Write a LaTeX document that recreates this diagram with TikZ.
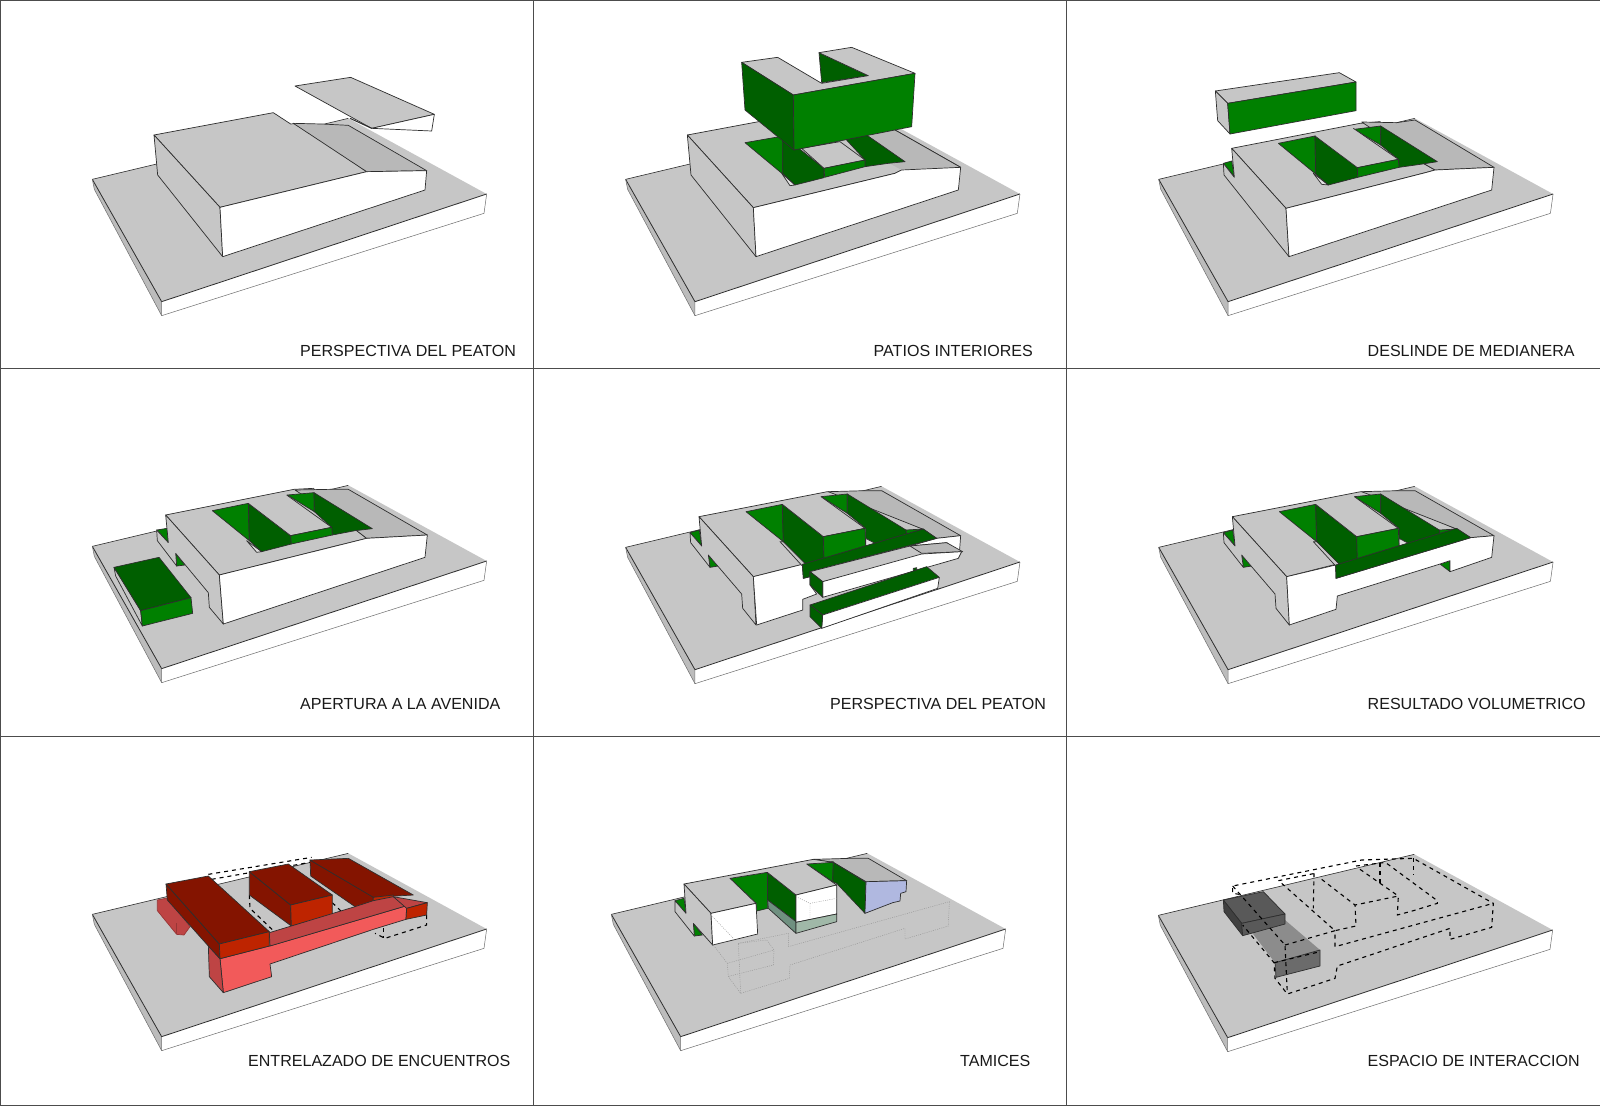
\documentclass[tikz,border=0pt]{standalone}
\usepackage{fontspec}
\setmainfont{Liberation Sans}
\definecolor{edge}{HTML}{2E2E2E}
\definecolor{gr}{HTML}{C6C6C6}
\definecolor{grs}{HTML}{BCBCBC}
\definecolor{rmp}{HTML}{B8B8B8}
\definecolor{gm}{HTML}{008000}
\definecolor{gd}{HTML}{005F00}
\definecolor{rt}{HTML}{841400}
\definecolor{rf}{HTML}{BE2400}
\definecolor{rp}{HTML}{F25A5A}
\definecolor{rw}{HTML}{BE4444}
\definecolor{tb}{HTML}{B0B8E0}
\definecolor{ta}{HTML}{6F9080}
\definecolor{tc}{HTML}{A0B8A8}
\tikzset{
  panel/.style={x=.33333pt,y=-.33333pt},
  face/.style={draw=edge,line width=.7pt,line join=round},
  wf/.style={face,fill=white},
  gf/.style={face,fill=gr},
  gn/.style={fill=gr},
  rf/.style={face,fill=rmp},
  gmf/.style={face,fill=gm},
  gdf/.style={face,fill=gd},
  slv/.style={face,fill=gray!25},
  dsh/.style={draw=black,line width=1.1pt,dash pattern=on 4pt off 4pt},
  ghost/.style={draw=gray!85,line width=.4pt,dash pattern=on 1pt off 1.2pt},
  gridl/.style={draw=black!70,line width=1pt},
  lab/.style={anchor=base west,inner sep=0pt,font=\fontsize{16.05}{18}\selectfont,text=black!90}
}
\newcommand{\basemass}[2]{%
\begin{scope}[shift={(#1pt,-#2pt)},panel]
  \fill[gr] (97,388)--(865,205)--(1280,432)--(305,755)--cycle;
  \fill[grs] (97,388)--(103,418)--(305,797)--(305,755)--cycle;
  \fill[white] (305,755)--(1280,432)--(1272,490)--(305,797)--cycle;
  \draw[edge,line width=.6pt] (97,388)--(865,205);
  \draw[edge,line width=.8pt] (97,388)--(305,755)--(1280,432);
  \draw[edge!70,line width=.5pt] (103,418)--(305,797)--(1272,490)--(1280,432);
  \draw[edge!70,line width=.5pt] (97,388)--(103,418) (305,755)--(305,797);
\end{scope}}
\begin{document}
\begin{tikzpicture}
\useasboundingbox (0pt,0pt) rectangle (1600pt,-1106pt);
\fill[white] (0pt,0pt) rectangle (1600pt,-1106pt);

% ---------- panel 1
\basemass{60}{50}
\begin{scope}[shift={(60pt,-50pt)},panel]
  \path[gf] (282,255)--(640,188)--(692,222)--(710,220)--(920,365)--(480,472)--cycle;
  \path[rf] (700,220)--(785,222)--(865,226)--(1100,362)--(920,365)--cycle;
  \path[gf] (282,255)--(480,472)--(488,620)--(293,375)--cycle;
  \path[wf] (480,472)--(920,365)--(1100,362)--(1095,420)--(488,620)--cycle;
  \path[gf] (705,108)--(872,82)--(1123,193)--(935,235)--cycle;
  \path[wf] (935,235)--(1123,193)--(1115,243)--cycle;
  \draw[edge,line width=1pt] (870,205)--(935,235);
\end{scope}

% ---------- panel 2
\basemass{593.3}{50}
\begin{scope}[shift={(600pt,-30pt)},panel]
  \path[gf] (262,315)--(620,248)--(885,300)--(1082,412)--(905,420)--(885,430)--(460,533)--cycle;
  \path[rf,draw=none] (800,300)--(885,300)--(1082,412)--(905,420)--(865,398)--cycle;
  \draw[edge,line width=.7pt] (885,300)--(1082,412);
  \path[gf] (262,315)--(460,533)--(468,680)--(273,435)--cycle;
  \path[wf] (460,533)--(885,430)--(905,420)--(1082,412)--(1075,480)--(468,680)--cycle;
  \path[gmf] (435,338)--(550,318)--(548,432)--cycle;
  \path[slv] (545,430)--(585,465)--(570,467)--cycle;
  \path[gdf] (548,320)--(548,430)--(585,465)--(672,443)--(672,415)--(600,358)--cycle;
  \path[gdf] (735,325)--(800,315)--(915,395)--(865,400)--(795,410)--(795,390)--cycle;
  \path[gf] (605,355)--(720,335)--(795,390)--(672,415)--cycle;
  \path[gmf] (672,415)--(795,390)--(795,410)--(674,442)--cycle;
  % floating U
  \path[gdf] (657,68)--(805,137)--(665,158)--cycle;
  \path[gf] (425,97)--(533,82)--(665,160)--(805,137)--(657,68)--(755,52)--(945,130)--(580,195)--cycle;
  \path[gdf] (425,97)--(580,195)--(582,360)--(435,240)--cycle;
  \path[gmf] (580,195)--(945,130)--(935,290)--(582,360)--cycle;
\end{scope}

% ---------- panel 3
\basemass{1126.4}{50}
\begin{scope}[shift={(1140pt,-50pt)},panel]
  \path[gmf] (250,340)--(275,333)--(283,380)--cycle;
  \path[gf] (275,295)--(660,220)--(720,215)--(850,340)--(885,360)--(860,367)--(438,475)--cycle;
  \path[rf] (665,216)--(770,218)--(825,210)--(1062,352)--(885,360)--(850,340)--cycle;
  \path[gf] (275,295)--(438,475)--(447,620)--(252,375)--(250,340)--(283,382)--cycle;
  \path[wf] (438,475)--(860,367)--(885,360)--(1062,352)--(1055,420)--(447,620)--cycle;
  \path[slv] (520,370)--(565,405)--(545,403)--cycle;
  \path[gmf] (415,280)--(525,258)--(527,372)--cycle;
  \path[gdf] (525,258)--(652,350)--(653,382)--(565,405)--(527,372)--cycle;
  \path[gmf] (642,238)--(722,228)--(722,285)--cycle;
  \path[gdf] (722,228)--(892,335)--(848,342)--(777,352)--(775,328)--(722,285)--cycle;
  \path[gn] (525,258)--(640,235)--(775,328)--(652,353)--cycle;
  \path[face] (525,258)--(652,353)--(775,328)--(640,235);
  \path[gmf] (652,353)--(775,328)--(777,352)--(653,382)--cycle;
  \path[gf] (226,123)--(598,68)--(648,96)--(263,160)--cycle;
  \path[gf] (226,123)--(263,160)--(270,252)--(233,212)--cycle;
  \path[gmf] (263,160)--(648,96)--(648,182)--(270,252)--cycle;
\end{scope}

% ---------- panel 4
\basemass{60}{417}
\begin{scope}[shift={(80pt,-470pt)},panel]
  \path[gmf] (230,180)--(262,175)--(265,218)--cycle;
  \path[gmf] (287,250)--(315,285)--(290,288)--cycle;
  \path[gf] (257,135)--(642,58)--(700,55)--(830,182)--(860,205)--(840,210)--(418,315)--cycle;
  \path[rf] (645,60)--(750,58)--(805,58)--(1042,195)--(860,205)--(830,182)--cycle;
  \path[gf] (257,135)--(418,315)--(430,462)--(388,412)--(385,368)--(287,250)--(290,288)--(232,212)--(230,180)--(265,218)--cycle;
  \path[wf] (418,315)--(840,210)--(860,205)--(1042,195)--(1035,262)--(430,462)--cycle;
  \path[slv] (500,212)--(545,245)--(530,247)--cycle;
  \path[gmf] (397,122)--(505,100)--(508,212)--cycle;
  \path[gdf] (505,100)--(632,197)--(634,222)--(545,245)--(508,212)--cycle;
  \path[gmf] (622,75)--(702,68)--(703,125)--cycle;
  \path[gdf] (702,68)--(877,176)--(825,182)--(757,195)--(755,172)--(703,125)--cycle;
  \path[gn] (505,100)--(620,75)--(755,172)--(632,197)--cycle;
  \path[face] (505,100)--(632,197)--(755,172)--(620,75);
  \path[gmf] (632,197)--(755,172)--(757,195)--(634,222)--cycle;
  \path[gf] (102,292)--(182,422)--(187,468)--(107,318)--cycle;
  \path[gdf] (102,292)--(237,262)--(333,383)--(182,422)--cycle;
  \path[gmf] (182,422)--(333,383)--(338,430)--(187,468)--cycle;
\end{scope}

% ---------- panel 5
\basemass{593.3}{418}
\begin{scope}[shift={(620pt,-470pt)},panel]
  \path[gmf] (210,188)--(238,180)--(245,228)--cycle;
  \path[gmf] (265,255)--(295,288)--(270,292)--cycle;
  \path[gf] (237,140)--(622,65)--(680,72)--(910,178)--(547,283)--(400,320)--cycle;
  \path[rf] (625,65)--(735,62)--(785,62)--(1022,197)--(950,205)--(910,178)--cycle;
  \path[wf] (950,205)--(1022,197)--(1018,250)--(980,218)--(870,228)--cycle;
  \path[gf] (237,140)--(400,320)--(408,465)--(368,415)--(365,372)--(265,255)--(270,292)--(212,218)--(210,188)--(245,228)--cycle;
  \path[wf] (400,320)--(547,283)--(550,325)--(570,320)--(570,345)--(590,372)--(548,388)--(548,420)--(410,465)--cycle;
  \path[gf] (480,215)--(495,215)--(562,285)--(547,288)--cycle;
  \path[gmf] (378,125)--(487,103)--(490,215)--cycle;
  \path[gdf] (487,103)--(610,200)--(612,268)--(558,283)--(490,215)--cycle;
  \path[gmf] (603,80)--(682,72)--(682,130)--cycle;
  \path[gdf] (682,72)--(858,180)--(860,192)--(765,222)--(737,205)--(737,175)--(682,130)--cycle;
  \path[slv] (737,205)--(765,220)--(737,228)--cycle;
  \path[gmf] (858,180)--(910,177)--(860,192)--cycle;
  \path[gn] (487,103)--(603,80)--(735,175)--(610,200)--cycle;
  \path[face] (487,103)--(610,200)--(735,175)--(603,80);
  \path[gmf] (610,200)--(735,175)--(737,228)--(612,268)--cycle;
  \path[gdf] (547,283)--(910,177)--(950,205)--(570,305)--(570,320)--(550,325)--cycle;
  \path[gf] (570,305)--(870,228)--(1025,245)--(900,260)--(608,335)--cycle;
  \path[rf] (870,228)--(980,218)--(1028,245)--(905,250)--cycle;
  \path[wf] (608,335)--(905,252)--(1025,245)--(1015,265)--(608,382)--cycle;
  \path[gdf] (570,305)--(608,335)--(608,382)--(570,345)--cycle;
  \path[gdf] (880,295)--(890,293)--(890,300)--(880,302)--cycle;
  \path[gdf] (570,405)--(920,290)--(958,322)--(608,435)--cycle;
  \path[wf] (608,435)--(958,322)--(953,355)--(605,475)--cycle;
  \path[gdf] (570,405)--(608,435)--(605,475)--(570,440)--cycle;
\end{scope}

% ---------- panel 6
\basemass{1126.4}{418}
\begin{scope}[shift={(1150pt,-470pt)},panel]
  \path[gmf] (220,188)--(248,180)--(255,228)--cycle;
  \path[gmf] (275,255)--(305,288)--(280,292)--cycle;
  \path[gmf] (870,282)--(900,272)--(900,305)--cycle;
  \path[gf] (247,140)--(632,65)--(690,72)--(920,178)--(557,283)--(410,320)--cycle;
  \path[rf] (635,65)--(745,62)--(795,62)--(1032,197)--(962,203)--(920,177)--cycle;
  \path[gf] (247,140)--(410,320)--(418,465)--(378,415)--(375,372)--(275,255)--(280,292)--(222,218)--(220,188)--(255,228)--cycle;
  \path[wf] (410,320)--(557,285)--(558,325)--(962,203)--(1032,197)--(1025,262)--(900,305)--(900,272)--(870,282)--(562,378)--(558,418)--(418,465)--cycle;
  \path[gf] (490,215)--(505,215)--(572,285)--(557,288)--cycle;
  \path[gmf] (388,125)--(497,103)--(500,215)--cycle;
  \path[gdf] (497,103)--(620,200)--(622,268)--(568,283)--(500,215)--cycle;
  \path[gmf] (613,80)--(692,72)--(692,130)--cycle;
  \path[gdf] (692,72)--(868,180)--(870,192)--(775,222)--(747,205)--(747,175)--(692,130)--cycle;
  \path[slv] (747,205)--(775,220)--(747,228)--cycle;
  \path[gmf] (868,180)--(920,177)--(870,192)--cycle;
  \path[gn] (497,103)--(613,80)--(745,175)--(620,200)--cycle;
  \path[face] (497,103)--(620,200)--(745,175)--(613,80);
  \path[gmf] (620,200)--(745,175)--(747,228)--(622,268)--cycle;
  \path[gdf] (557,285)--(920,175)--(962,203)--(558,325)--cycle;
\end{scope}

% ---------- panel 7
\basemass{60}{785}
\begin{scope}[shift={(80pt,-840pt)},panel]
  \path[dsh] (385,103)--(695,52);
  \path[dsh] (395,118)--(515,97) (640,76)--(695,66);
  \path[dsh] (508,165)--(510,205)--(580,272);
  \path[dsh] (757,188)--(785,215);
  \path[dsh] (1040,225)--(1040,255)--(915,295)--(885,280);
  \path[dsh] (910,265)--(910,295);
  \path[face,fill=rw,draw=rw!80!black] (232,180)--(262,174)--(330,260)--(312,285)--(290,283)--(232,212)--cycle;
  \path[face,draw=rw!80!black] (290,250)--(290,283);
  \path[face,fill=rt] (690,60)--(880,170)--(880,198)--(825,200)--(692,108)--cycle;
  \path[face,fill=rt] (690,60)--(805,55)--(1000,165)--(880,172)--cycle;
  \path[face,fill=rf] (880,172)--(940,165)--(940,175)--(880,182)--cycle;
  \path[face,fill=rt] (508,95)--(632,195)--(634,258)--(508,165)--cycle;
  \path[face,fill=rt] (508,95)--(625,72)--(757,165)--(632,195)--cycle;
  \path[face,fill=rf] (632,195)--(757,165)--(757,225)--(634,258)--cycle;
  \path[face,fill=rp] (420,356)--(568,318)--(980,197)--(978,238)--(880,268)--(570,372)--(575,410)--(430,458)--cycle;
  \path[face,fill=rw] (568,278)--(634,258)--(825,200)--(880,182)--(940,170)--(980,197)--(570,318)--cycle;
  \path[face,fill=rw] (940,170)--(1042,188)--(980,205)--cycle;
  \path[face,fill=rf] (980,205)--(1042,188)--(1040,225)--(978,238)--cycle;
  \path[face,fill=rw] (385,318)--(420,356)--(430,458)--(388,410)--cycle;
  \path[face,fill=rt] (258,132)--(418,312)--(420,356)--(385,318)--(262,180)--cycle;
  \path[face,fill=rt] (258,132)--(385,108)--(568,275)--(418,312)--cycle;
  \path[face,fill=rf] (418,312)--(568,275)--(568,318)--(420,356)--cycle;
\end{scope}

% ---------- panel 8
\basemass{579}{785}
\begin{scope}[shift={(610pt,-840pt)},panel]
  \path[ghost] (535,280)--(535,320)--(1018,185)--(1015,258)--(885,297)--(885,265)--(540,375)--(538,415)--(392,460)--(355,410)--(352,370)--(310,315);
  \path[ghost] (385,310)--(470,300)--(492,330)--(490,375)--(352,410);
  \path[ghost] (352,370)--(492,330) (392,460)--(385,310) (385,310)--(535,280);
  \path[gmf] (195,182)--(222,175)--(228,220)--cycle;
  \path[gmf] (250,250)--(277,285)--(253,288)--cycle;
  \path[rf] (610,58)--(720,55)--(775,55)--(890,122)--(768,125)--(670,67)--cycle;
  \path[gmf] (590,72)--(670,65)--(668,125)--cycle;
  \path[gdf] (670,67)--(768,127)--(765,220)--(680,130)--(668,125)--cycle;
  \path[face,fill=tb] (768,125)--(890,122)--(888,155)--(872,160)--(870,183)--(848,188)--(765,220)--cycle;
  \path[gmf] (360,115)--(472,97)--(473,205)--(440,213)--(438,190)--cycle;
  \path[gdf] (472,97)--(558,165)--(558,245)--(473,180)--cycle;
  \path[face,fill=ta] (473,180)--(558,245)--(558,280)--(475,205)--cycle;
  \path[gf] (222,132)--(610,58)--(670,67)--(590,72)--(680,135)--(558,165)--(472,97)--(360,115)--(438,190)--(303,220)--cycle;
  \path[wf] (558,165)--(680,135)--(680,222)--(558,247)--cycle;
  \path[face,fill=tc] (558,247)--(680,222)--(680,245)--(558,280)--cycle;
  \path[ghost] (558,170)--(600,190)--(680,175) (600,190)--(600,235);
  \path[gf] (222,132)--(303,220)--(308,315)--(250,250)--(253,288)--(195,215)--(195,182)--(228,220)--cycle;
  \path[wf] (303,220)--(438,190)--(443,282)--(308,315)--cycle;
  \path[ghost] (303,225)--(370,295);
\end{scope}

% ---------- panel 9
\basemass{1126}{786}
\begin{scope}[shift={(1150pt,-840pt)},panel]
  \path[face,fill=black!45,draw=none] (300,270)--(405,240)--(510,330)--(375,368)--cycle;
  \path[face,fill=black!58] (375,368)--(510,330)--(510,378)--(378,412)--cycle;
  \path[face,fill=black!65] (220,180)--(340,155)--(405,222)--(275,250)--cycle;
  \path[face,fill=black!75] (220,180)--(275,250)--(278,287)--(222,215)--cycle;
  \path[face,fill=black!65] (275,250)--(405,222)--(405,252)--(278,287)--cycle;
  \path[dsh] (268,163)--(248,160)--(248,138)--(635,60)--(790,55)--(1030,190)--(1025,262)--(900,298)--(900,265)--(562,378)--(555,415)--(412,462)--(375,415)--(372,368)--(278,255);
  \path[dsh] (248,138)--(405,315)--(412,462);
  \path[dsh] (405,315)--(555,272)--(555,320)--(1030,190);
  \path[dsh] (395,130)--(555,272)--(618,258)--(615,195)--(745,168)--(742,225)--(790,212)--(862,190)--(862,182)--(710,70);
  \path[dsh] (385,122)--(495,100) (618,78)--(700,68);
  \path[dsh] (492,100)--(490,205);
  \path[dsh] (515,118)--(615,195);
  \path[dsh] (630,88)--(745,168);
  \path[dsh] (690,70)--(690,140);
  \path[dsh] (790,55)--(790,105);
  \path[dsh] (372,368)--(510,335);
\end{scope}

% ---------- grid
\draw[gridl] (0.5pt,0pt)--(0.5pt,-1106pt);
\draw[gridl] (533.3pt,0pt)--(533.3pt,-1106pt);
\draw[gridl] (1066.7pt,0pt)--(1066.7pt,-1106pt);
\draw[gridl] (0pt,-0.5pt)--(1600pt,-0.5pt);
\draw[gridl] (0pt,-368.3pt)--(1600pt,-368.3pt);
\draw[gridl] (0pt,-736.7pt)--(1600pt,-736.7pt);
\draw[gridl] (0pt,-1105.3pt)--(1600pt,-1105.3pt);

% ---------- labels
\node[lab] (t1) at (300pt,-356pt) {PERSPECTIVA DEL PEATON};
\node[lab] (t2) at (873.5pt,-356pt) {PATIOS INTERIORES};
\node[lab] (t3) at (1367.5pt,-356pt) {DESLINDE DE MEDIANERA};
\node[lab] (t4) at (300pt,-709pt) {APERTURA A LA AVENIDA};
\node[lab] (t5) at (830pt,-709pt) {PERSPECTIVA DEL PEATON};
\node[lab] (t6) at (1367.5pt,-709pt) {RESULTADO VOLUMETRICO};
\node[lab] (t7) at (248pt,-1066pt) {ENTRELAZADO DE ENCUENTROS};
\node[lab] (t8) at (960pt,-1066pt) {TAMICES};
\node[lab] (t9) at (1367.5pt,-1066pt) {ESPACIO DE INTERACCION};
\end{tikzpicture}
\end{document}
